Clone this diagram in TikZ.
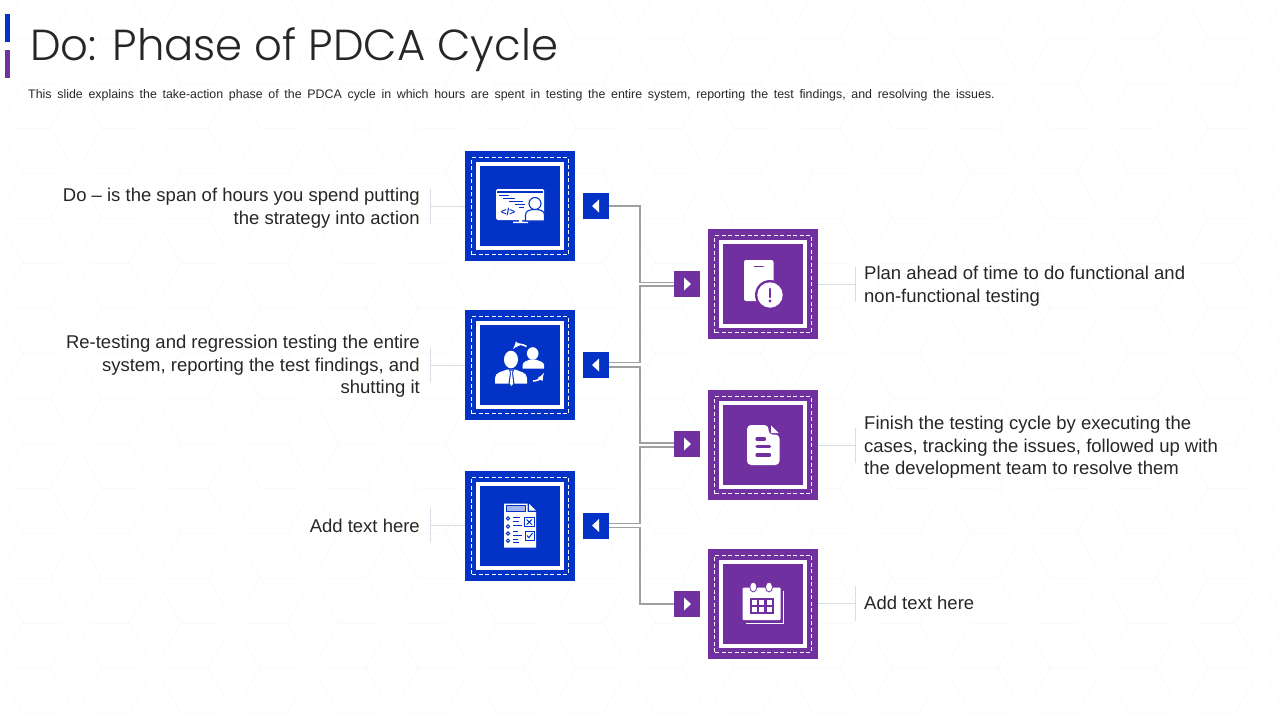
\documentclass[tikz,border=0pt]{standalone}
\usepackage{fontspec}
\setmainfont{Liberation Sans}
\newfontfamily\titlefont{Poppins Light}

\definecolor{slideblue}{HTML}{0332C6}
\definecolor{slidepurple}{HTML}{7030A0}
\definecolor{linkgrey}{HTML}{A0A0A0}
\definecolor{leadgrey}{HTML}{D8DEE8}
\definecolor{hexgrey}{HTML}{FAFAFA}
\definecolor{inkgrey}{HTML}{262626}

\tikzset{
	card/.style = {
		minimum size = 110pt, inner sep = 0pt, fill = #1,
		path picture = {
			\draw [white, line width = 1pt, dash pattern = on 4pt off 2.5pt]
				([shift = {(6.5pt, 6.5pt)}] path picture bounding box.south west) rectangle
				([shift = {(-6.5pt, -6.5pt)}] path picture bounding box.north east);
			\draw [white, line width = 4pt]
				([shift = {(13pt, 13pt)}] path picture bounding box.south west) rectangle
				([shift = {(-13pt, -13pt)}] path picture bounding box.north east);
		}
	},
	tagleft/.style = {
		minimum size = 26pt, inner sep = 0pt, fill = slideblue,
		path picture = {
			\fill [white] ([xshift = -4pt] path picture bounding box.center) --
				([shift = {(3pt, 6.5pt)}] path picture bounding box.center) --
				([shift = {(3pt, -6.5pt)}] path picture bounding box.center) -- cycle;
		}
	},
	tagright/.style = {
		minimum size = 26pt, inner sep = 0pt, fill = slidepurple,
		path picture = {
			\fill [white] ([xshift = 4pt] path picture bounding box.center) --
				([shift = {(-3pt, 6.5pt)}] path picture bounding box.center) --
				([shift = {(-3pt, -6.5pt)}] path picture bounding box.center) -- cycle;
		}
	},
	notetext/.style = {inner sep = 0pt, text = inkgrey, font = \fontsize{18.5}{22.5}\selectfont},
	link/.style = {linkgrey, line width = 1.2pt},
	leader/.style = {leadgrey, line width = 0.8pt}
}

\begin{document}
\begin{tikzpicture}[x = 1pt, y = -1pt, > = latex]

	\useasboundingbox (0, 0) rectangle (1280, 720);

	% Faint background stars

	\begin{scope}[hexgrey, line width = 1pt]

		\clip (0, 0) rectangle (1280, 720);

		\foreach \a in {0, 60, ..., 300} {
			\foreach \x in {-82, 76, 234, 392, 550, 708, 866, 1024, 1182, 1340}
				\foreach \y in {-7, 83, 173, 263, 353, 443, 533, 623, 713}
					\draw (\x, \y) ++ (\a : 14) -- ++ (\a : 39);
			\foreach \x in {-3, 155, 313, 471, 629, 787, 945, 1103, 1261}
				\foreach \y in {38, 128, 218, 308, 398, 488, 578, 668}
					\draw (\x, \y) ++ (\a : 14) -- ++ (\a : 39);
		}

	\end{scope}

	% Heading

	\fill [slideblue] (5, 14) rectangle (10, 42);
	\fill [slidepurple] (5, 50) rectangle (10, 78);

	\node (title) [anchor = west, inner sep = 0pt, text = inkgrey, font = \titlefont\fontsize{43.4}{44}\selectfont] at (30, 49.5) {Do: Phase of PDCA Cycle};
	\node (subtitle) [anchor = west, inner sep = 0pt, text = inkgrey, font = \fontsize{12.4}{14}\selectfont] at (28, 95) {\spaceskip = 5.7pt This slide explains the take-action phase of the PDCA cycle in which hours are spent in testing the entire system, reporting the test findings, and resolving the issues.};

	% Blue column

	\node (card1) [card = slideblue] at (520, 206) {};
	\node (card2) [card = slideblue] at (520, 365) {};
	\node (card3) [card = slideblue] at (520, 525.5) {};

	\node (tag1) [tagleft] at (596, 206) {};
	\node (tag2) [tagleft] at (596, 365) {};
	\node (tag3) [tagleft] at (596, 525.5) {};

	% Purple column

	\node (card4) [card = slidepurple] at (763, 284.3) {};
	\node (card5) [card = slidepurple] at (763, 445) {};
	\node (card6) [card = slidepurple] at (763, 603.5) {};

	\node (tag4) [tagright] at (687, 284) {};
	\node (tag5) [tagright] at (687, 444) {};
	\node (tag6) [tagright] at (687, 604) {};

	% Links between the tags

	\coordinate (bus) at (640, 0);

	\begin{scope}[link]

		\draw (tag1.east) -- (tag1.east -| bus) |- ([yshift = 1.5pt] tag4.west);
		\draw ([yshift = 2.5pt] tag2.east) -- ([yshift = 2.5pt] tag2.east -| bus) |- ([yshift = -2pt] tag4.west);
		\draw ([yshift = -2pt] tag2.east) -- ([yshift = -2pt] tag2.east -| bus) |- ([yshift = 1pt] tag5.west);
		\draw ([yshift = 2pt] tag3.east) -- ([yshift = 2pt] tag3.east -| bus) |- ([yshift = -3pt] tag5.west);
		\draw ([yshift = -2pt] tag3.east) -- ([yshift = -2pt] tag3.east -| bus) |- (tag6.west);

	\end{scope}

	% Leaders and notes on the left

	\coordinate (stem1) at (430, 206);
	\coordinate (stem2) at (430, 365);
	\coordinate (stem3) at (430, 525.5);

	\begin{scope}[leader]

		\draw (card1.west) -- (stem1) ([yshift = 17.5pt] stem1) -- ([yshift = -17.5pt] stem1);
		\draw (card2.west) -- (stem2) ([yshift = 17.5pt] stem2) -- ([yshift = -17.5pt] stem2);
		\draw (card3.west) -- (stem3) ([yshift = 17.5pt] stem3) -- ([yshift = -17.5pt] stem3);

	\end{scope}

	\node (note1) [notetext, anchor = east, align = right] at (420, 208) {Do -- is the span of hours you spend putting\\the strategy into action};
	\node (note2) [notetext, anchor = east, align = right] at (420, 366.5) {Re-testing and regression testing the entire\\system, reporting the test findings, and\\shutting it};
	\node (note3) [notetext, anchor = east, align = right] at (420, 525.5) {Add text here};

	% Leaders and notes on the right

	\coordinate (stem4) at (855, 284.3);
	\coordinate (stem5) at (855, 445);
	\coordinate (stem6) at (855, 603.5);

	\begin{scope}[leader]

		\draw (card4.east) -- (stem4) ([yshift = 17.5pt] stem4) -- ([yshift = -17.5pt] stem4);
		\draw (card5.east) -- (stem5) ([yshift = 17.5pt] stem5) -- ([yshift = -17.5pt] stem5);
		\draw (card6.east) -- (stem6) ([yshift = 17.5pt] stem6) -- ([yshift = -17.5pt] stem6);

	\end{scope}

	\node (note4) [notetext, anchor = west, align = left] at (864, 286) {Plan ahead of time to do functional and\\non-functional testing};
	\node (note5) [notetext, anchor = west, align = left] at (864, 447.5) {Finish the testing cycle by executing the\\cases, tracking the issues, followed up with\\the development team to resolve them};
	\node (note6) [notetext, anchor = west, align = left] at (864, 603) {Add text here};

	% Icon: screen and user

	\fill [white, rounded corners = 1.5pt] (496, 189) rectangle (544, 220);
	\fill [white] (519, 220) rectangle (522, 222) (513, 221.5) rectangle (528, 223);

	\begin{scope}[slideblue, line width = 1.1pt]

		\draw (497, 192) -- (543, 192);
		\draw (499, 195.3) -- (509, 195.3);
		\draw (503, 198.3) -- (515, 198.3);
		\draw (509, 201.3) -- (523, 201.3);
		\draw (515, 204.5) -- (525, 204.5);
		\draw (519, 207.7) -- (524, 207.7);
		\draw [fill = white] (525.5, 221) -- (525.5, 215) .. controls (525.5, 210.5) and (530, 209.5) .. (535, 209.5) .. controls (540, 209.5) and (544.5, 210.5) .. (544.5, 215) -- (544.5, 221) -- cycle;
		\draw [fill = white] (535, 203.5) circle (6);

	\end{scope}

	\node (codemark) [inner sep = 0pt, text = slideblue, font = \bfseries\fontsize{10}{10}\selectfont] at (508, 211.5) {</>};

	% Icon: two people and arrows

	\fill [white] (511, 359.5) ellipse (7 and 8.8);
	\fill [white] (495, 383.5) -- (495, 378) .. controls (495, 372) and (503, 371.5) .. (507, 369.5) -- (515, 369.5) .. controls (519, 371.5) and (527, 372) .. (527, 378) -- (527, 383.5) -- cycle;
	\fill [slideblue] (509, 369.5) -- (514, 369.5) -- (513, 373) -- (514.5, 384) -- (511.5, 388) -- (508.5, 384) -- (510, 373) -- cycle;
	\fill [white] (510.3, 370.5) -- (512.7, 370.5) -- (512, 373) -- (513.3, 383.5) -- (511.5, 386) -- (509.7, 383.5) -- (511, 373) -- cycle;
	\fill [white] (532.7, 353.5) ellipse (5.8 and 6.3);
	\fill [white] (522.7, 368.5) -- (522.7, 365) .. controls (522.7, 361.5) and (527, 361) .. (530, 359.5) -- (535.5, 359.5) .. controls (538.5, 361) and (544, 361.5) .. (544, 365) -- (544, 368.5) -- cycle;

	\begin{scope}[white, line width = 1.6pt, ->, > = latex]

		\draw (526.5, 346.5) .. controls (522, 343.5) and (517, 344.5) .. (513, 349);
		\draw (533, 381) .. controls (538, 381) and (541, 378) .. (544, 373);

	\end{scope}

	% Icon: checklist

	\fill [white] (504, 503.5) -- (527.5, 503.5) -- (527.5, 512) -- (536, 512) -- (536, 547.5) -- (504, 547.5) -- cycle;
	\fill [white] (529, 503.5) -- (536, 510.7) -- (529, 510.7) -- cycle;

	\begin{scope}[slideblue, line width = 1pt]

		\draw [fill = slideblue!35] (506, 505.5) rectangle (525, 511);
		\draw (508, 518.5) circle (1.7);
		\draw (508, 526.5) circle (1.7);
		\draw (508, 533.5) circle (1.7);
		\draw (508, 540.7) circle (1.7);
		\draw (513.3, 517.3) -- (520, 517.3);
		\draw (513.3, 521) -- (519, 521);
		\draw (513.3, 525) -- (522.3, 525);
		\draw (513.3, 531.7) -- (518.3, 531.7);
		\draw (513.3, 535) -- (522.3, 535);
		\draw (513.3, 539.5) -- (517.5, 539.5);
		\draw (513.3, 542.7) -- (519, 542.7);
		\draw (524.5, 517.5) rectangle (534, 526.7);
		\draw (526.5, 519.5) -- (532, 524.7) (532, 519.5) -- (526.5, 524.7);
		\draw (525, 531) rectangle (534, 540);
		\draw (527, 535.5) -- (529, 537.7) -- (532.5, 533);

	\end{scope}

	% Icon: handset and warning

	\fill [white, rounded corners = 2pt] (744, 260) rectangle (773.5, 301);
	\draw [slidepurple, line width = 1.5pt, line cap = round] (754.5, 266.7) -- (763, 266.7);
	\fill [slidepurple] (770, 295) circle (15);
	\fill [white] (770, 295) circle (12.7);
	\draw [slidepurple, line width = 2.8pt, line cap = round] (770, 289) -- (770, 297);
	\fill [slidepurple] (770, 301) circle (1.6);

	% Icon: document

	\fill [white, rounded corners = 4pt] (747, 425) -- (768.5, 425) -- (768.5, 434.5) -- (779.5, 434.5) -- (779.5, 465) -- (747, 465) -- cycle;
	\fill [white] (771, 425.5) -- (778.5, 433) -- (771, 433) -- cycle;

	\begin{scope}[slidepurple, line width = 3.2pt, line cap = round]

		\draw (757, 439) -- (764.5, 439);
		\draw (757, 446.7) -- (769.5, 446.7);
		\draw (757, 455) -- (769.5, 455);

	\end{scope}

	% Icon: calendar

	\draw [white, line width = 1.2pt] (783.5, 591) -- (783.5, 623.5) -- (745.7, 623.5);
	\fill [white, rounded corners = 1pt] (742.7, 587.7) rectangle (780.7, 620);
	\draw [slidepurple, line width = 0.8pt, fill = white] (753.3, 587) ellipse (3.5 and 5);
	\draw [slidepurple, line width = 0.8pt, fill = white] (769, 587) ellipse (3.5 and 5);
	\fill [slidepurple] (749.5, 597.5) rectangle (773.5, 613.5);

	\begin{scope}[white]

		\fill (751.5, 599.5) rectangle (756.5, 604.5);
		\fill (759, 599.5) rectangle (764, 604.5);
		\fill (766.5, 599.5) rectangle (771.5, 604.5);
		\fill (751.5, 606.5) rectangle (756.5, 611.5);
		\fill (759, 606.5) rectangle (764, 611.5);
		\fill (766.5, 606.5) rectangle (771.5, 611.5);

	\end{scope}

\end{tikzpicture}
\end{document}
